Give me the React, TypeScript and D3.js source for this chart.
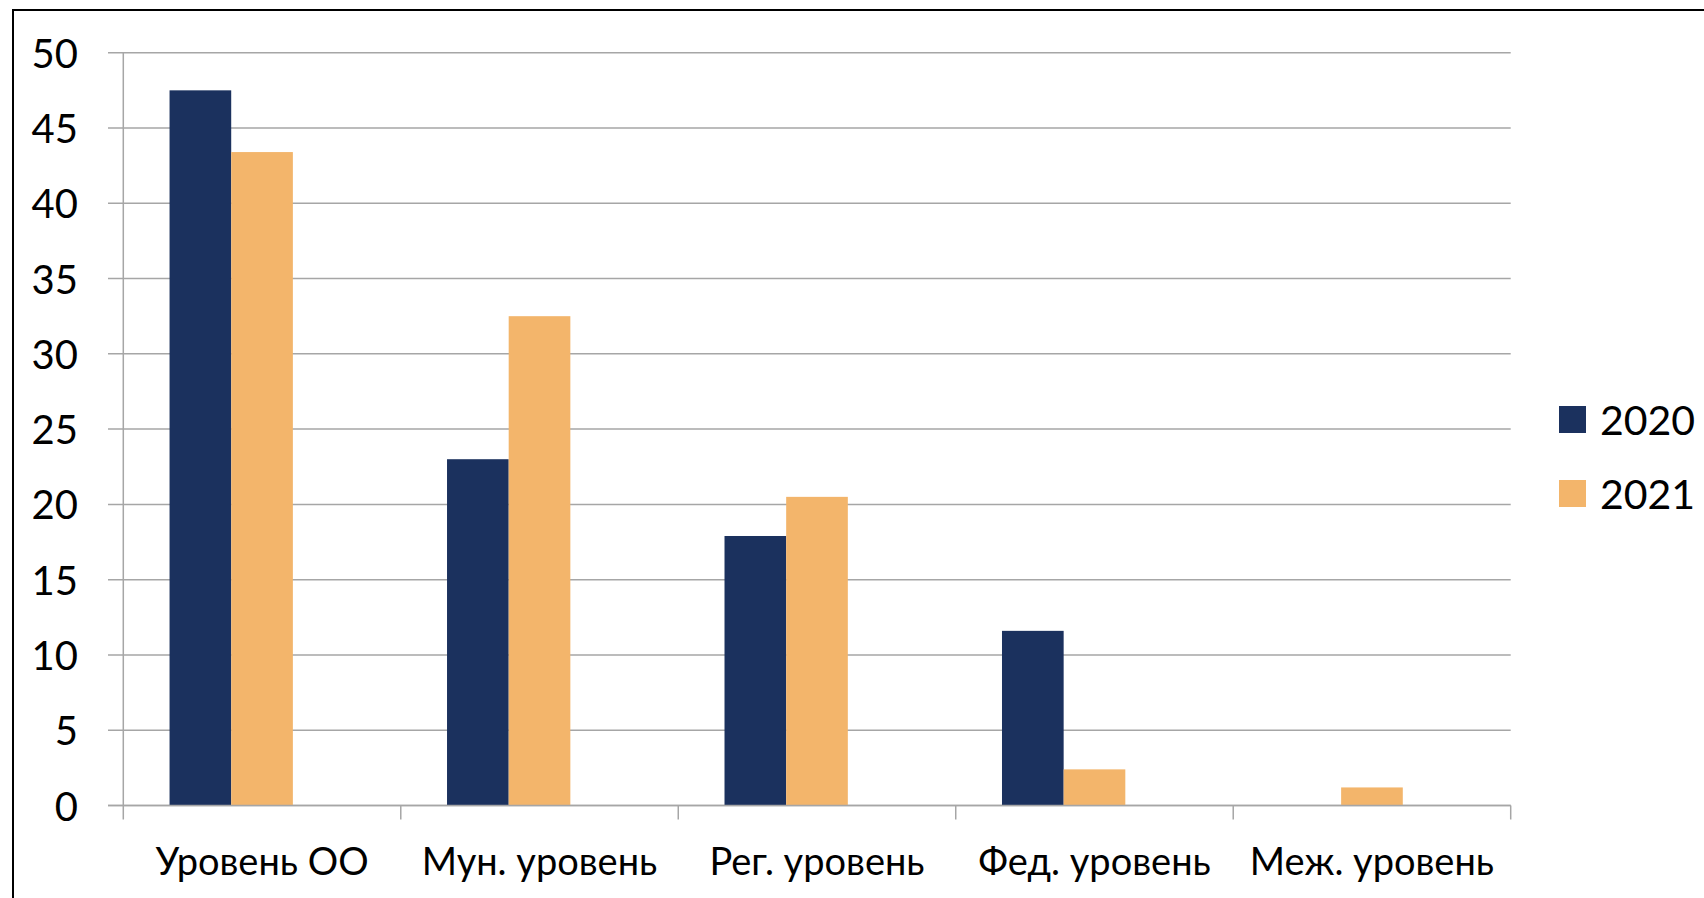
import React from "react";
import * as d3 from "d3";

const categories = ["Уровень ОО", "Мун. уровень", "Рег. уровень", "Фед. уровень", "Меж. уровень"];
const seriesNames = ["2020", "2021"];
const values2020 = [47.5, 23, 17.9, 11.6, 0];
const values2021 = [43.4, 32.5, 20.5, 2.4, 1.2];
const yTicks = [0, 5, 10, 15, 20, 25, 30, 35, 40, 45, 50];
const colors = ["#1b315e", "#f3b56b"];

const W = 1704;
const H = 898;
const plotLeft = 123.3;
const plotRight = 1510.7;
const plotTop = 52.7;
const plotBottom = 805.5;
const FONT = "Lato, 'Open Sans', sans-serif";

export default function App() {
  const x = d3.scaleBand<string>().domain(categories).range([plotLeft, plotRight]).paddingInner(0).paddingOuter(0);
  const y = d3.scaleLinear().domain([0, 50]).range([plotBottom, plotTop]);
  // three slots per category (third series empty) with 150% gap width
  const bw = x.bandwidth() / 4.5;
  const off = (i: number) => 0.75 * bw + i * bw;
  const series = [values2020, values2021];

  return (
    <svg width={W} height={H} style={{ position: "absolute", left: 0, top: 0, background: "#fff" }}>
      <rect x={0} y={0} width={W} height={H} fill="#fff" />
      {yTicks.map((t) => (
        <g key={t}>
          <line x1={108} x2={plotRight} y1={y(t)} y2={y(t)} stroke="#a6a6a6" strokeWidth={1.5} />
          <text x={78} y={y(t)} textAnchor="end" dominantBaseline="central" fontFamily={FONT} fontSize={40} fill="#000">
            {t}
          </text>
        </g>
      ))}
      <line x1={plotLeft} x2={plotLeft} y1={plotTop} y2={plotBottom + 14} stroke="#a6a6a6" strokeWidth={1.5} />
      {categories.map((c) => (
        <line key={c} x1={x(c)! + x.bandwidth()} x2={x(c)! + x.bandwidth()} y1={plotBottom} y2={plotBottom + 14} stroke="#a6a6a6" strokeWidth={1.5} />
      ))}
      {series.map((vals, si) =>
        vals.map((v, ci) =>
          v > 0 ? (
            <rect
              key={`${si}-${ci}`}
              x={x(categories[ci])! + off(si)}
              y={y(v)}
              width={bw}
              height={y(0) - y(v)}
              fill={colors[si]}
            />
          ) : null
        )
      )}
      <line x1={108} x2={plotRight} y1={y(0)} y2={y(0)} stroke="#a6a6a6" strokeWidth={1.5} />
      {categories.map((c) => (
        <text key={c} x={x(c)! + x.bandwidth() / 2} y={875} textAnchor="middle" fontFamily={FONT} fontSize={38} fill="#000">
          {c}
        </text>
      ))}
      {seriesNames.map((s, i) => (
        <g key={s} transform={`translate(1559, ${406 + i * 74})`}>
          <rect x={0} y={0} width={27} height={27} fill={colors[i]} />
          <text x={41} y={13.5} dominantBaseline="central" fontFamily={FONT} fontSize={41} fill="#000">
            {s}
          </text>
        </g>
      ))}
      <rect x={13} y={10} width={W + 50} height={H + 50} fill="none" stroke="#000" strokeWidth={2} />
    </svg>
  );
}
